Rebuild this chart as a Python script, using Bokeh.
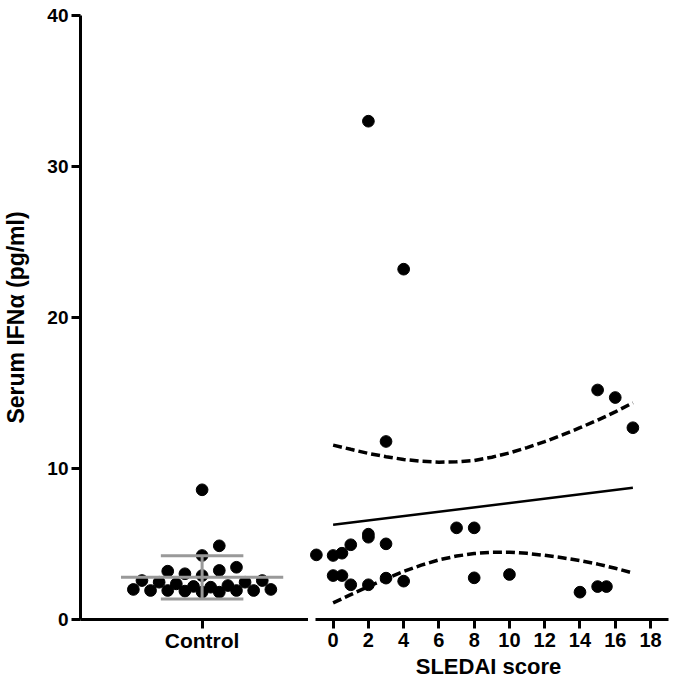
import numpy as np
from bokeh.plotting import figure
from bokeh.models import FixedTicker, Range1d
from bokeh.layouts import row
from bokeh.embed import file_html
from bokeh.resources import INLINE

# ---------------- data ----------------
# Control group (column scatter); slot = horizontal position in the swarm
control_slot = [0, 2, 0, -4, -2, 0, 2, 4, -7, -5, -3, -1, 1, 3, 5, 7,
                -8, -6, -4, -2, 0, 2, 4, 6, 8]
control_ifn = [8.59, 4.88, 4.24, 3.20, 3.03, 2.91, 3.25, 3.46,
               2.58, 2.47, 2.36, 2.19, 2.14, 2.25, 2.47, 2.58,
               1.99, 1.92, 1.92, 1.88, 1.81, 1.81, 1.92, 1.92, 1.99]

# SLE patients: SLEDAI score vs serum IFN-alpha
sledai = [-0.95, 0, 0.5, 1, 2, 2, 3, 7, 8,
          0, 0.5, 1, 2, 3, 4, 8, 10, 14, 15, 15.5,
          3, 17, 15, 16, 2, 4]
ifn = [4.28, 4.24, 4.39, 4.95, 5.45, 5.65, 5.01, 6.07, 6.07,
       2.91, 2.91, 2.30, 2.30, 2.74, 2.54, 2.76, 2.98, 1.81, 2.18, 2.18,
       11.79, 12.70, 15.20, 14.70, 33.00, 23.20]

# linear regression line and 95% confidence band
fit_x = [0, 17]
fit_y = [6.27, 8.72]
band_x = list(range(0, 18))
band_upper = [11.55, 11.27, 11.00, 10.78, 10.60, 10.48, 10.42, 10.44, 10.53,
              10.75, 11.03, 11.38, 11.78, 12.22, 12.70, 13.20, 13.75, 14.35]
band_lower = [1.10, 1.65, 2.18, 2.70, 3.18, 3.60, 3.95, 4.20, 4.37,
              4.45, 4.46, 4.38, 4.25, 4.09, 3.90, 3.67, 3.39, 3.08]

y_ticks = [0, 10, 20, 30, 40]
sledai_ticks = [0, 2, 4, 6, 8, 10, 12, 14, 16, 18]
control_label = "Control"
y_title = "Serum IFNα (pg/ml)"
x_title = "SLEDAI score"

# ---------------- style ----------------
FONT = "Liberation Sans"
H = 685
TOP = 15
BOTTOM = 66
DOT = 11.7


def style_common(p):
    p.xgrid.visible = False
    p.ygrid.visible = False
    p.outline_line_color = None
    p.background_fill_color = "white"
    p.border_fill_color = "white"


def style_xaxis(ax, label_size):
    ax.axis_line_width = 3
    ax.axis_line_color = "black"
    ax.major_tick_line_width = 3
    ax.major_tick_line_color = "black"
    ax.major_tick_out = 9
    ax.major_tick_in = 0
    ax.minor_tick_line_color = None
    ax.major_label_text_font = FONT
    ax.major_label_text_font_style = "bold"
    ax.major_label_text_font_size = label_size
    ax.major_label_text_color = "black"
    ax.major_label_standoff = 4


# ---------------- left panel: controls ----------------
p1 = figure(width=308, height=H, x_range=Range1d(-14.15, 12.38),
            y_range=Range1d(0, 40), output_backend="svg", toolbar_location=None,
            min_border_left=78, min_border_right=0, min_border_top=TOP,
            min_border_bottom=BOTTOM)
style_common(p1)

p1.scatter(control_slot, control_ifn, size=DOT, color="black")

mean = float(np.mean(control_ifn))
sd = float(np.std(control_ifn, ddof=1))
GRAY = "#999999"
p1.segment(x0=[-9.44], x1=[9.44], y0=[mean], y1=[mean], line_color=GRAY, line_width=3)
p1.segment(x0=[-4.8, -4.8], x1=[4.8, 4.8], y0=[mean + sd, mean - sd],
           y1=[mean + sd, mean - sd], line_color=GRAY, line_width=3)
p1.segment(x0=[0], x1=[0], y0=[mean - sd], y1=[mean + sd], line_color=GRAY, line_width=3)

xa = p1.xaxis[0]
xa.ticker = FixedTicker(ticks=[0])
xa.major_label_overrides = {0: control_label}
style_xaxis(xa, "21px")
xa.major_label_standoff = 0

ya = p1.yaxis[0]
ya.ticker = FixedTicker(ticks=y_ticks)
ya.axis_line_width = 3
ya.axis_line_color = "black"
ya.major_tick_line_width = 3
ya.major_tick_line_color = "black"
ya.major_tick_out = 9
ya.major_tick_in = 0
ya.minor_tick_line_color = None
ya.major_label_text_font = FONT
ya.major_label_text_font_style = "bold"
ya.major_label_text_font_size = "19px"
ya.major_label_text_color = "black"
ya.major_label_standoff = 3
ya.axis_label = y_title
ya.axis_label_text_font = FONT
ya.axis_label_text_font_style = "bold"
ya.axis_label_text_font_size = "23px"
ya.axis_label_text_color = "black"
ya.axis_label_standoff = 15

# ---------------- right panel: SLEDAI ----------------
p2 = figure(width=372, height=H, x_range=Range1d(-1.397, 19.02),
            y_range=p1.y_range, output_backend="svg", toolbar_location=None,
            y_axis_location=None, min_border_left=0, min_border_right=12,
            min_border_top=TOP, min_border_bottom=BOTTOM)
style_common(p2)

p2.scatter(sledai, ifn, size=DOT, color="black")
p2.line(fit_x, fit_y, line_color="black", line_width=2.5)
p2.line(band_x, band_upper, line_color="black", line_width=3.5, line_dash="9 4")
p2.line(band_x, band_lower, line_color="black", line_width=3.5, line_dash="9 4")

xb = p2.xaxis[0]
xb.ticker = FixedTicker(ticks=sledai_ticks)
xb.bounds = (-1.0, 19.04)
style_xaxis(xb, "20px")
xb.axis_label = x_title
xb.axis_label_text_font = FONT
xb.axis_label_text_font_style = "bold"
xb.axis_label_text_font_size = "22px"
xb.axis_label_text_color = "black"
xb.axis_label_standoff = 4

layout = row(p1, p2)

with open("out.html", "w") as f:
    f.write(file_html(layout, INLINE))
